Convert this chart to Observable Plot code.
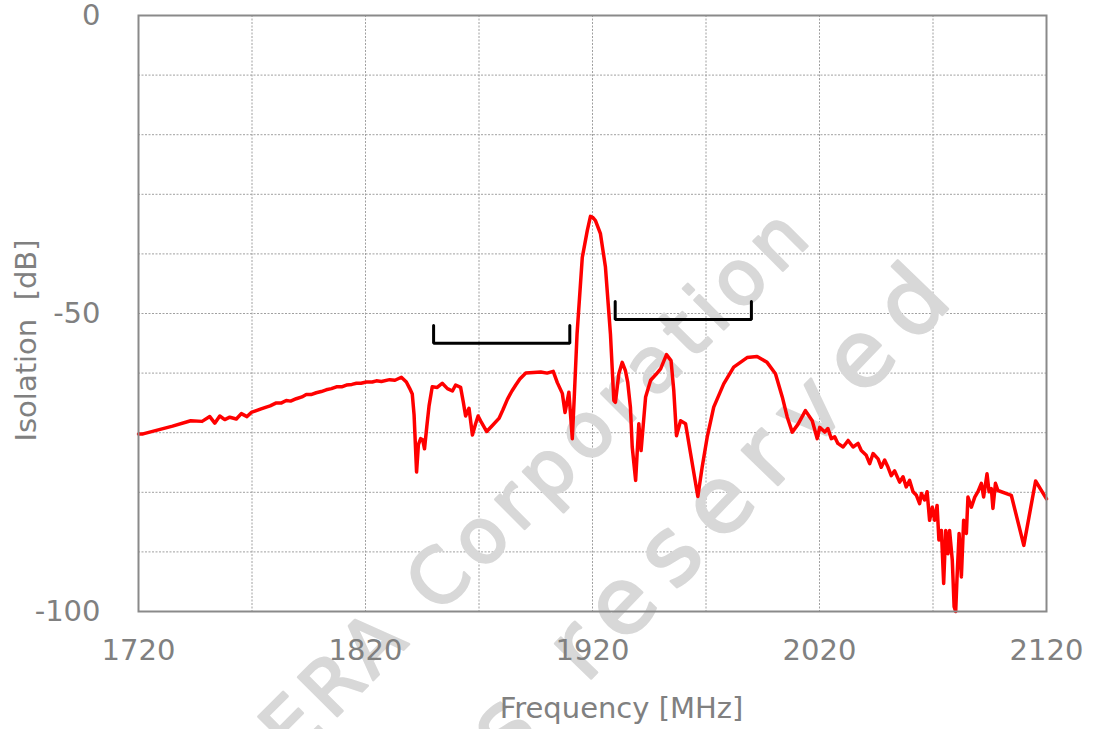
<!DOCTYPE html>
<html>
<head>
<meta charset="utf-8">
<script src="https://cdn.jsdelivr.net/npm/d3@7"></script>
<script src="https://cdn.jsdelivr.net/npm/@observablehq/plot@0.6"></script>
<style>
  html, body { margin: 0; padding: 0; background: #fff; }
  #chart { width: 1094px; height: 729px; overflow: hidden; }
</style>
</head>
<body>
<div id="chart"></div>
<script>
// ---- data ----
const freq = [
  1720, 1722, 1735, 1743, 1748, 1751.4, 1753.6, 1755.8, 1758, 1760.2, 1763.1, 1765.3, 1767.8, 1769.7,
  1771.9, 1774, 1776.3, 1778, 1780.7, 1783, 1785.1, 1787, 1789.5, 1792, 1793.9, 1796, 1798.3, 1800.5,
  1802.7, 1805, 1807.2, 1809.5, 1811.6, 1814, 1816, 1818, 1820.4, 1823, 1824.8, 1827, 1830.6, 1833,
  1835.8, 1838, 1839.5, 1840.6, 1841.4, 1842.5, 1843.3, 1844.3, 1845.2, 1846, 1847, 1848, 1849.4,
  1851.6, 1853.8, 1856.1, 1858.3, 1859.7, 1861.9, 1863.1, 1864.1, 1865.6, 1867.1, 1868.5, 1869.6,
  1870.7, 1873.4, 1875.9, 1878.8, 1880.5, 1882.5, 1884.5, 1886.2, 1888, 1890.6, 1894, 1897.2, 1900,
  1902.7, 1904.5, 1906.7, 1907.9, 1909.6, 1911.1, 1911.9, 1913.2, 1915.5, 1917.7, 1919.1, 1920.2,
  1921.3, 1923.5, 1925.7, 1927.9, 1929.4, 1930.1, 1931.6, 1933.1, 1934.5, 1935.5, 1936.7, 1937.5,
  1939, 1940.4, 1941.4, 1943.4, 1945.6, 1948, 1950, 1952.6, 1954.6, 1955.8, 1957, 1958.8, 1961,
  1963.2, 1966.4, 1968.3, 1970.5, 1973.4, 1977.8, 1982.2, 1988.1, 1992.5, 1996.9, 2000.6, 2003.6,
  2005.8, 2008, 2010.5, 2013.8, 2016.8, 2019, 2020.1, 2022.3, 2023.7, 2025.2, 2026.7, 2028.1, 2030.4,
  2032.6, 2034.8, 2037, 2038.4, 2040.6, 2042.1, 2043.6, 2045.8, 2047.2, 2048.7, 2050.2, 2051.6,
  2053.1, 2055.3, 2056.8, 2058.2, 2059.7, 2061.2, 2062.7, 2064.1, 2064.9, 2066.3, 2067.4, 2068.5,
  2069.7, 2070.7, 2071.8, 2072.6, 2073.7, 2074.7, 2075.6, 2076.6, 2077.3, 2078.5, 2079.3, 2080,
  2080.6, 2081.5, 2082.5, 2083.5, 2084.7, 2085.4, 2086.9, 2088.4, 2089.8, 2091.3, 2092.3, 2093.8,
  2094.7, 2095.7, 2096.4, 2097.5, 2098.6, 2104.5, 2110, 2115.2, 2120
];
const isolation = [
  -70.2, -70.2, -68.9, -68.0, -68.1, -67.3, -68.4, -67.2, -67.8, -67.4, -67.7, -66.8, -67.3, -66.6,
  -66.3, -66.0, -65.7, -65.5, -65.0, -65.0, -64.6, -64.7, -64.3, -64.0, -63.6, -63.6, -63.3, -63.1,
  -62.8, -62.6, -62.3, -62.3, -62.0, -61.9, -61.7, -61.7, -61.5, -61.5, -61.3, -61.4, -61.1, -61.2,
  -60.7, -61.5, -62.6, -63.5, -67.0, -76.6, -72.0, -71.0, -71.2, -72.7, -69.0, -65.5, -62.3,
  -62.4, -61.7, -62.6, -63.0, -62.0, -62.4, -64.9, -67.2, -65.9, -70.4, -68.5, -67.2,
  -68.0, -69.8, -68.8, -67.6, -66.2, -64.4, -63.0, -62.0, -61.0, -60.0, -59.9, -59.8, -60.0,
  -59.7, -61.6, -63.4, -66.6, -63.2, -71.0, -64.6, -53.4, -40.6, -36.1, -33.7, -33.9,
  -34.4, -36.6, -42.2, -53.4, -64.6, -64.9, -60.1, -58.2, -59.6, -61.5, -65.7, -72.4,
  -78.0, -68.5, -73.0, -64.0, -61.2, -60.2, -59.3, -56.9, -57.9, -62.9, -70.5, -68.0, -68.5,
  -73.5, -80.7, -75.8, -70.8, -65.7, -61.8, -59.0, -57.4, -57.2, -58.2, -60.1, -64.0,
  -67.4, -69.9, -68.6, -66.3, -68.0, -71.0, -69.1, -69.9, -69.3, -71.0, -70.7, -71.8, -72.4,
  -71.3, -72.4, -71.8, -73.0, -73.8, -75.2, -73.5, -74.4, -75.8, -74.6, -75.8, -77.2,
  -76.4, -78.3, -77.4, -79.1, -78.0, -79.9, -80.5, -81.9, -80.2, -81.3, -79.9, -84.7,
  -82.5, -84.7, -82.2, -88.0, -86.4, -95.3, -86.4, -90.3, -86.4, -91.4, -99.2, -100,
  -94.2, -86.9, -94.2, -84.7, -86.9, -80.8, -82.5, -80.8, -79.9, -78.5, -80.8, -76.9,
  -79.9, -79.4, -82.7, -78.5, -79.7, -80.5, -88.9, -78.1, -81.1
];

// frequency bands marked by brackets
const bandNames = ["TX", "RX"];
const bandStart = [1850, 1930];
const bandEnd = [1910, 1990];
const bandLevel = [-55, -51];
const bandTick = [3, 3];

const xTicks = [1720, 1820, 1920, 2020, 2120];
const yTicks = [0, -50, -100];
const xGrid = [1770, 1820, 1870, 1920, 1970, 2020, 2070];
const yGrid = [-10, -20, -30, -40, -50, -60, -70, -80, -90];

const xLabel = "Frequency [MHz]";
const yLabel = "Isolation\u00a0\u00a0[dB]";
const watermark1 = "KYOCERA Corporation";
const watermark2 = "All rights reserved";

// ---- build tables ----
const curve = freq.map((f, i) => ({f, v: isolation[i]}));
const brackets = bandNames.flatMap((name, i) => [
  {band: name, f: bandStart[i], v: bandLevel[i] + bandTick[i]},
  {band: name, f: bandStart[i], v: bandLevel[i]},
  {band: name, f: bandEnd[i], v: bandLevel[i]},
  {band: name, f: bandEnd[i], v: bandLevel[i] + bandTick[i]}
]);

const gray = "#808080";
const font = "DejaVu Sans, Verdana, sans-serif";
const wmColor = "#d8d8d8";

const chart = Plot.plot({
  width: 1094,
  height: 729,
  marginLeft: 138,
  marginRight: 48,
  marginTop: 15,
  marginBottom: 118,
  style: {fontFamily: font, fontSize: "29px", color: gray, background: "#fff", overflow: "visible"},
  x: {domain: [1720, 2120], label: null},
  y: {domain: [-100, 0], label: null},
  marks: [
    Plot.ruleX(xGrid, {stroke: "#a0a0a0", strokeWidth: 1, strokeDasharray: "2,1.5"}),
    Plot.ruleY(yGrid, {stroke: "#a0a0a0", strokeWidth: 1, strokeDasharray: "2,1.5"}),
    Plot.text([watermark1], {frameAnchor: "top-left", dx: -29, dy: 894, rotate: -45,
      fontSize: 76, fill: wmColor, stroke: wmColor, strokeWidth: 2.5,
      textAnchor: "start", lineAnchor: "middle", fontFamily: font}),
    Plot.text([watermark2], {frameAnchor: "top-left", dx: -15, dy: 1105, rotate: -46,
      fontSize: 92, fill: wmColor, stroke: wmColor, strokeWidth: 2.5,
      textAnchor: "start", lineAnchor: "middle", fontFamily: font}),
    Plot.line(curve, {x: "f", y: "v", stroke: "#ff0000", strokeWidth: 3.5, strokeLinejoin: "round"}),
    Plot.line(brackets, {x: "f", y: "v", z: "band", stroke: "#000", strokeWidth: 3, strokeLinejoin: "miter"}),
    Plot.frame({stroke: "#8a8a8a", strokeWidth: 2}),
    Plot.axisX({ticks: xTicks, tickSize: 0, tickPadding: 28, tickFormat: d => String(d), fill: gray, fontSize: 29}),
    Plot.axisY({ticks: yTicks, tickSize: 0, tickPadding: 38, tickFormat: d => d < 0 ? "-" + Math.abs(d) : String(d), fill: gray, fontSize: 29}),
    Plot.text([xLabel], {frameAnchor: "bottom", dx: 29, dy: 97, lineAnchor: "middle", fill: gray, fontSize: 29}),
    Plot.text([yLabel], {frameAnchor: "left", dx: -112, dy: 27, rotate: -90, lineAnchor: "middle", textAnchor: "middle", fill: gray, fontSize: 29})
  ]
});

// watermark letter spacing
d3.select(chart).selectAll("text")
  .filter(function() { return this.textContent === watermark1; })
  .attr("letter-spacing", 8);
d3.select(chart).selectAll("text")
  .filter(function() { return this.textContent === watermark2; })
  .attr("letter-spacing", 18);

document.getElementById("chart").appendChild(chart);
</script>
</body>
</html>
